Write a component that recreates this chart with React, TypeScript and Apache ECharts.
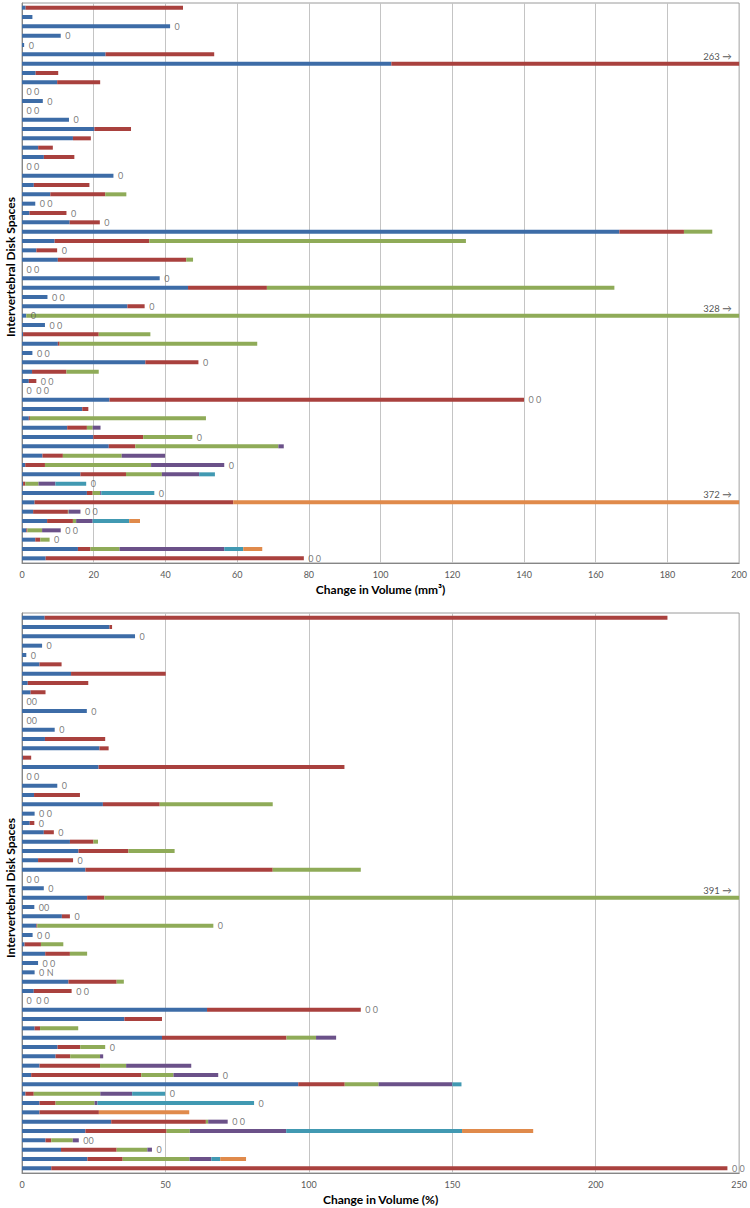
import React, { useEffect, useRef } from "react";
import * as echarts from "echarts";

// ---------- categories (60 intervertebral disk spaces, unlabeled in the figure) ----------
const diskSpaces = Array.from({ length: 60 }, (_, i) => `Disk space ${i + 1}`);

// ---------- tick values ----------
const mmTicks = [0, 20, 40, 60, 80, 100, 120, 140, 160, 180, 200];
const pctTicks = [0, 50, 100, 150, 200, 250];

// ---------- top panel: change in volume (mm³), stacked segments ----------
const mmBlue = [
  1.0, 2.9, 41.3, 10.8, 0.6, 23.3, 103, 3.8, 9.8, 0,
  5.8, 0, 13.1, 20.2, 14.2, 4.5, 6.1, 0, 25.5, 3.3,
  7.9, 3.7, 2.1, 13.3, 166.6, 9.1, 4.0, 10.0, 0, 38.4,
  46.3, 7.1, 29.4, 1.2, 6.4, 0.3, 10.0, 2.9, 34.4, 2.8,
  1.9, 0, 24.4, 16.8, 1.9, 12.6, 19.9, 24.2, 5.7, 0.9,
  16.3, 0.3, 18.1, 3.5, 3.1, 7.0, 1.2, 3.7, 15.6, 6.6,
];
const mmRed = [
  43.9, 0, 0, 0, 0, 30.3, 160, 6.3, 12.0, 0,
  0, 0, 0, 10.2, 5.0, 4.1, 8.5, 0, 0, 15.5,
  15.3, 0, 10.3, 8.4, 18.0, 26.4, 5.8, 35.8, 0, 0,
  22.0, 0, 4.8, 0, 0, 21.1, 0.5, 0, 14.8, 9.6,
  2.1, 0, 115.6, 1.7, 0.3, 5.5, 13.9, 7.4, 5.7, 5.5,
  12.7, 0.6, 1.6, 55.4, 9.7, 7.2, 0.3, 1.4, 3.5, 72.0,
];
const mmGreen = [
  0, 0, 0, 0, 0, 0, 0, 0, 0, 0,
  0, 0, 0, 0, 0, 0, 0, 0, 0, 0,
  5.9, 0, 0, 0, 7.9, 88.3, 0, 1.9, 0, 0,
  96.9, 0, 0, 326.8, 0, 14.4, 55.1, 0, 0, 9.0,
  0, 0, 0, 0, 49.1, 1.6, 13.7, 39.9, 16.4, 29.6,
  10.0, 3.7, 2.1, 0, 0.2, 0.9, 4.1, 2.6, 8.1, 0,
];
const mmPurple = [
  0, 0, 0, 0, 0, 0, 0, 0, 0, 0,
  0, 0, 0, 0, 0, 0, 0, 0, 0, 0,
  0, 0, 0, 0, 0, 0, 0, 0, 0, 0,
  0, 0, 0, 0, 0, 0, 0, 0, 0, 0,
  0, 0, 0, 0, 0, 2.2, 0, 1.5, 12.1, 20.4,
  10.4, 4.7, 0.3, 0, 3.3, 4.6, 5.2, 0, 29.2, 0,
];
const mmTeal = [
  0, 0, 0, 0, 0, 0, 0, 0, 0, 0,
  0, 0, 0, 0, 0, 0, 0, 0, 0, 0,
  0, 0, 0, 0, 0, 0, 0, 0, 0, 0,
  0, 0, 0, 0, 0, 0, 0, 0, 0, 0,
  0, 0, 0, 0, 0, 0, 0, 0, 0, 0,
  4.4, 8.6, 14.8, 0, 0, 10.2, 0, 0, 5.3, 0,
];
const mmOrange = [
  0, 0, 0, 0, 0, 0, 0, 0, 0, 0,
  0, 0, 0, 0, 0, 0, 0, 0, 0, 0,
  0, 0, 0, 0, 0, 0, 0, 0, 0, 0,
  0, 0, 0, 0, 0, 0, 0, 0, 0, 0,
  0, 0, 0, 0, 0, 0, 0, 0, 0, 0,
  0, 0, 0, 313.1, 0, 3.0, 0, 0, 5.3, 0,
];
const mmZeroLabels = [
  "", "", "0", "0", "0", "", "", "", "", "0 0",
  "0", "0 0", "0", "", "", "", "", "0 0", "0", "",
  "", "0 0", "0", "0", "", "", "0", "", "0 0", "0",
  "", "0 0", "0", "0", "0 0", "", "", "0 0", "0", "",
  "0 0", "0  0 0", "0 0", "", "", "", "0", "", "", "0",
  "", "0", "0", "", "0 0", "", "0 0", "0", "", "0 0",
];

// ---------- bottom panel: change in volume (%), stacked segments ----------
const pctBlue = [
  7.9, 30.5, 39.4, 7.0, 1.5, 6.1, 17.1, 2.0, 3.0, 0,
  22.6, 0, 11.4, 8.0, 27.0, 0.3, 26.7, 0, 12.3, 4.2,
  28.2, 4.4, 2.7, 7.6, 16.7, 19.7, 5.6, 22.1, 0, 7.6,
  22.7, 4.3, 13.9, 5.0, 3.7, 0.9, 8.1, 5.6, 4.4, 16.2,
  4.1, 0, 64.5, 35.7, 4.4, 48.8, 12.4, 11.7, 6.1, 3.2,
  96.3, 1.2, 6.1, 6.1, 31.1, 22.1, 8.2, 13.6, 22.8, 10.2,
];
const pctRed = [
  217.1, 0.9, 0, 0, 0, 7.7, 33.0, 21.1, 5.2, 0,
  0, 0, 0, 21.0, 3.2, 2.9, 85.7, 0, 0, 16.0,
  19.8, 0, 1.6, 3.5, 8.2, 17.4, 12.2, 65.3, 0, 0,
  6.0, 0, 2.8, 0.3, 0, 5.7, 8.6, 0, 0, 16.8,
  13.2, 0, 53.6, 13.1, 1.9, 43.4, 7.9, 5.1, 21.1, 38.4,
  16.2, 2.9, 5.6, 20.7, 33.0, 28.3, 2.0, 19.4, 12.3, 235.7,
];
const pctGreen = [
  0, 0, 0, 0, 0, 0, 0, 0, 0, 0,
  0, 0, 0, 0, 0, 0, 0, 0, 0, 0,
  39.4, 0, 0, 0, 1.6, 16.1, 0, 30.7, 0, 0,
  362.3, 0, 0, 61.4, 0, 7.8, 6.0, 0, 0, 2.5,
  0, 0, 0, 0, 13.3, 10.3, 8.7, 10.4, 9.1, 11.2,
  11.8, 23.2, 13.6, 0, 0.8, 8.1, 7.5, 10.7, 23.3, 0,
];
const pctPurple = [
  0, 0, 0, 0, 0, 0, 0, 0, 0, 0,
  0, 0, 0, 0, 0, 0, 0, 0, 0, 0,
  0, 0, 0, 0, 0, 0, 0, 0, 0, 0,
  0, 0, 0, 0, 0, 0, 0, 0, 0, 0,
  0, 0, 0, 0, 0, 7.0, 0, 1.1, 22.7, 15.6,
  25.7, 11.1, 1.0, 0, 6.8, 33.6, 2.1, 1.6, 7.6, 0,
];
const pctTeal = [
  0, 0, 0, 0, 0, 0, 0, 0, 0, 0,
  0, 0, 0, 0, 0, 0, 0, 0, 0, 0,
  0, 0, 0, 0, 0, 0, 0, 0, 0, 0,
  0, 0, 0, 0, 0, 0, 0, 0, 0, 0,
  0, 0, 0, 0, 0, 0, 0, 0, 0, 0,
  3.2, 11.5, 54.6, 0, 0, 61.3, 0, 0, 3.1, 0,
];
const pctOrange = [
  0, 0, 0, 0, 0, 0, 0, 0, 0, 0,
  0, 0, 0, 0, 0, 0, 0, 0, 0, 0,
  0, 0, 0, 0, 0, 0, 0, 0, 0, 0,
  0, 0, 0, 0, 0, 0, 0, 0, 0, 0,
  0, 0, 0, 0, 0, 0, 0, 0, 0, 0,
  0, 0, 0, 31.5, 0, 24.8, 0, 0, 9.0, 0,
];
const pctZeroLabels = [
  "", "", "0", "0", "0", "", "", "", "", "00",
  "0", "00", "0", "", "", "", "", "0 0", "0", "",
  "", "0 0", "0", "0", "", "", "0", "", "0 0", "0",
  "", "00", "0", "0", "0 0", "", "", "0 0", "0 N", "",
  "0 0", "0  0 0", "0 0", "", "", "", "0", "", "", "0",
  "", "0", "0", "", "0 0", "", "00", "0", "", "0 0",
];

const COLORS = ["#3d6ca7", "#a9413e", "#8fab58", "#6b5189", "#4199b2", "#e08a4b"];
const FONT = "'Liberation Sans Narrow', 'Lato', 'Liberation Sans', sans-serif";

function panelSeries(idx: number, segments: number[][], zeroLabels: string[], maxValue: number) {
  const out: any[] = [];
  segments.forEach((data, k) => {
    out.push({
      type: "bar",
      name: `Segment ${k + 1}`,
      xAxisIndex: idx,
      yAxisIndex: idx,
      stack: `panel${idx}`,
      data,
      barWidth: 4,
      clip: true,
      silent: true,
      itemStyle: { color: COLORS[k] },
    });
  });
  const labelPts: any[] = [];
  zeroLabels.forEach((text, i) => {
    if (!text) return;
    let acc = 0;
    for (const seg of segments) {
      if (seg[i] === 0) break;
      acc += seg[i];
    }
    labelPts.push({ name: text, value: [acc, i] });
  });
  out.push({
    type: "scatter",
    xAxisIndex: idx,
    yAxisIndex: idx,
    data: labelPts,
    symbolSize: 1,
    silent: true,
    z: 5,
    itemStyle: { color: "rgba(0,0,0,0)" },
    label: {
      show: true,
      position: "right",
      distance: 4,
      formatter: "{b}",
      fontSize: 9,
      color: "#595959",
      fontFamily: FONT,
    },
  });
  const over: any[] = [];
  diskSpaces.forEach((_, i) => {
    const total = segments.reduce((s, seg) => s + seg[i], 0);
    if (total > maxValue) over.push({ name: `${Math.round(total)} →`, value: [maxValue, i] });
  });
  out.push({
    type: "scatter",
    xAxisIndex: idx,
    yAxisIndex: idx,
    data: over,
    symbolSize: 1,
    silent: true,
    z: 5,
    itemStyle: { color: "rgba(0,0,0,0)" },
    label: {
      show: true,
      position: [-7, -7],
      align: "right",
      verticalAlign: "middle",
      formatter: "{b}",
      fontSize: 9.5,
      color: "#262626",
      fontFamily: FONT,
    },
  });
  return out;
}

function xAxisFor(idx: number, ticks: number[], name: string) {
  return {
    type: "value",
    gridIndex: idx,
    min: ticks[0],
    max: ticks[ticks.length - 1],
    interval: ticks[1] - ticks[0],
    axisLine: { show: true, lineStyle: { color: "#868686", width: 1 } },
    axisTick: { show: false },
    splitLine: { show: true, lineStyle: { color: "#c4c4c4", width: 1 } },
    axisLabel: { fontSize: 9, color: "#595959", margin: 7, fontFamily: FONT },
    name,
    nameLocation: "middle",
    nameGap: 20,
    nameTextStyle: { fontSize: 12, fontWeight: "bold", color: "#000", fontFamily: FONT },
  };
}

function yAxisFor(idx: number) {
  return {
    type: "category",
    gridIndex: idx,
    data: diskSpaces,
    inverse: true,
    axisLine: { show: true, lineStyle: { color: "#868686", width: 1 } },
    axisTick: { show: false },
    axisLabel: { show: false },
    splitLine: { show: false },
  };
}

export default function App() {
  const ref = useRef<HTMLDivElement>(null);
  useEffect(() => {
    document.body.style.margin = "0";
    if (!ref.current) return;
    const chart = echarts.init(ref.current, undefined, { renderer: "svg" });
    const mmSegments = [mmBlue, mmRed, mmGreen, mmPurple, mmTeal, mmOrange];
    const pctSegments = [pctBlue, pctRed, pctGreen, pctPurple, pctTeal, pctOrange];
    chart.setOption({
      animation: false,
      backgroundColor: "#ffffff",
      grid: [
        { left: 22, top: 3, width: 719, height: 560, show: true, borderColor: "#9a9a9a", borderWidth: 1 },
        { left: 22, top: 613, width: 719, height: 560, show: true, borderColor: "#9a9a9a", borderWidth: 1 },
      ],
      xAxis: [
        xAxisFor(0, mmTicks, "Change in Volume (mm³)"),
        xAxisFor(1, pctTicks, "Change in Volume (%)"),
      ],
      yAxis: [yAxisFor(0), yAxisFor(1)],
      graphic: [
        {
          type: "text",
          x: 10,
          y: 267,
          rotation: Math.PI / 2,
          style: {
            text: "Intervertebral Disk Spaces",
            font: `bold 12px ${FONT}`,
            fill: "#000",
            align: "center",
            verticalAlign: "middle",
          },
        },
        {
          type: "text",
          x: 10,
          y: 888,
          rotation: Math.PI / 2,
          style: {
            text: "Intervertebral Disk Spaces",
            font: `bold 12px ${FONT}`,
            fill: "#000",
            align: "center",
            verticalAlign: "middle",
          },
        },
      ],
      series: [
        ...panelSeries(0, mmSegments, mmZeroLabels, mmTicks[mmTicks.length - 1]),
        ...panelSeries(1, pctSegments, pctZeroLabels, pctTicks[pctTicks.length - 1]),
      ],
    });
    return () => chart.dispose();
  }, []);
  return <div ref={ref} style={{ width: 750, height: 1208 }} />;
}
